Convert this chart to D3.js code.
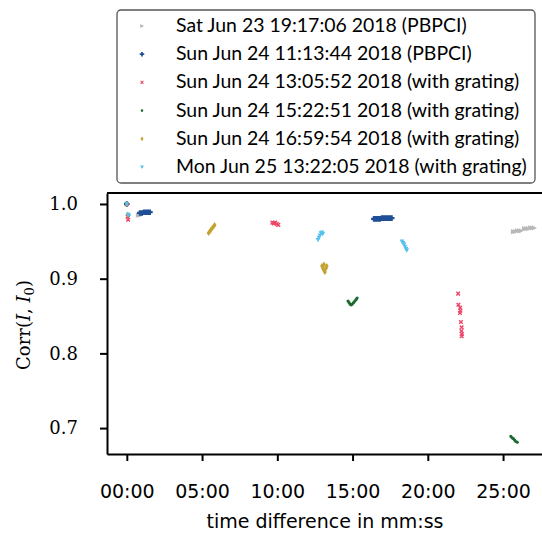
<!DOCTYPE html>
<html>
<head>
<meta charset="utf-8">
<script src="https://cdn.jsdelivr.net/npm/d3@7"></script>
<style>
  body { margin: 0; background: #fff; }
  svg text { fill: #000; }
  .sans { font-family: "DejaVu Sans", sans-serif; }
  .legend-text { font-family: Lato, "DejaVu Sans", sans-serif; }
  .serif { font-family: "DejaVu Serif", serif; }
</style>
</head>
<body>
<div id="chart"></div>
<script>
/* Corr(I, I0) against time difference, six runs */

const xTicks = [0, 300, 600, 900, 1200, 1500];
const yTicks = [0.7, 0.8, 0.9, 1.0];

const labels = [
  "Sat Jun 23 19:17:06 2018 (PBPCI)",
  "Sun Jun 24 11:13:44 2018 (PBPCI)",
  "Sun Jun 24 13:05:52 2018 (with grating)",
  "Sun Jun 24 15:22:51 2018 (with grating)",
  "Sun Jun 24 16:59:54 2018 (with grating)",
  "Mon Jun 25 13:22:05 2018 (with grating)"
];

// time in seconds, correlation value
const satT = [0, 45, 52, 60, 1540, 1548, 1556, 1564, 1572, 1584, 1592, 1600, 1608, 1616, 1624];
const satV = [1.0, 0.985, 0.985, 0.986, 0.963, 0.963, 0.964, 0.964, 0.964, 0.967, 0.967, 0.967, 0.968, 0.968, 0.968];

const sun1T = [0, 52, 60, 68, 76, 84, 92, 985, 993, 1001, 1009, 1017, 1025, 1033, 1041, 1049, 1056];
const sun1V = [1.0, 0.988, 0.988, 0.989, 0.989, 0.989, 0.989, 0.980, 0.980, 0.980, 0.980, 0.981, 0.981, 0.981, 0.981, 0.981, 0.981];

const sun2T = [0, 3, 5, 580, 586, 592, 598, 604, 1321, 1322, 1329, 1330, 1328, 1332, 1335, 1334, 1336, 1335];
const sun2V = [1.0, 0.983, 0.979, 0.975, 0.974, 0.975, 0.973, 0.972, 0.880, 0.865, 0.861, 0.857, 0.854, 0.842, 0.835, 0.830, 0.826, 0.823];

const sun3T = [0, 8, 882, 886, 890, 894, 899, 904, 909, 914, 918, 1531, 1536, 1541, 1546, 1551, 1557];
const sun3V = [1.0, 0.985, 0.870, 0.868, 0.866, 0.865, 0.866, 0.868, 0.870, 0.872, 0.874, 0.689, 0.687, 0.686, 0.684, 0.682, 0.681];

const sun4T = [0, 4, 326, 331, 336, 341, 346, 350, 778, 782, 786, 790, 794, 797, 786];
const sun4V = [1.0, 0.986, 0.961, 0.963, 0.966, 0.968, 0.970, 0.972, 0.917, 0.914, 0.911, 0.909, 0.914, 0.917, 0.919];

const monT = [0, 4, 8, 762, 766, 770, 774, 778, 781, 1097, 1101, 1105, 1109, 1113, 1116];
const monV = [1.0, 0.986, 0.985, 0.952, 0.955, 0.958, 0.961, 0.962, 0.960, 0.950, 0.948, 0.946, 0.943, 0.940, 0.938];

const colors = ["#b8b8b8", "#1f4f96", "#ee4466", "#1b6a30", "#c4a332", "#55c2ee"];
const shapes = ["triR", "plus", "cross", "dot", "diamond", "triD"];

const width = 542, height = 534;
const margin = { top: 193, right: -18, bottom: 80, left: 107 };

const series = [
  [satT, satV], [sun1T, sun1V], [sun2T, sun2V],
  [sun3T, sun3V], [sun4T, sun4V], [monT, monV]
].map((p, i) => ({
  label: labels[i], color: colors[i], shape: shapes[i],
  points: p[0].map((t, j) => ({ t: t, v: p[1][j] }))
}));

const svg = d3.select("#chart").append("svg")
  .attr("width", width).attr("height", height);

const x = d3.scaleLinear()
  .domain([-79, 1727])
  .range([margin.left, width - margin.right]);

const y = d3.scaleLinear()
  .domain([0.6653, 1.0147])
  .range([height - margin.bottom, margin.top]);

function symbolPath(shape) {
  // small marker paths centred at 0,0
  switch (shape) {
    case "triR": return "M-2.2,-2.6L2.8,0L-2.2,2.6Z";
    case "plus": return "M-1.1,-2.8H1.1V-1.1H2.8V1.1H1.1V2.8H-1.1V1.1H-2.8V-1.1H-1.1Z";
    case "cross": return d3.symbol().type(d3.symbolX).size(10)();
    case "dot": return d3.symbol().type(d3.symbolCircle).size(8)();
    case "diamond": return "M0,-3L1.9,0L0,3L-1.9,0Z";
    case "triD": return "M-2.4,-1.8L2.4,-1.8L0,2.4Z";
  }
}

svg.append("clipPath").attr("id", "clip")
  .append("rect")
  .attr("x", margin.left).attr("y", margin.top)
  .attr("width", width - margin.right - margin.left)
  .attr("height", height - margin.bottom - margin.top);

const marks = svg.append("g").attr("clip-path", "url(#clip)");
series.forEach(s => {
  marks.append("g").selectAll("path")
    .data(s.points)
    .join("path")
    .attr("d", symbolPath(s.shape))
    .attr("fill", s.color)
    .attr("stroke", s.shape === "cross" ? s.color : "none")
    .attr("stroke-width", 1.4)
    .attr("transform", d => `translate(${x(d.t)},${y(d.v)})`);
});

// axes
const fmt = t => d3.format("02d")(Math.floor(t / 60)) + ":" + d3.format("02d")(t % 60);

const xAxis = svg.append("g")
  .attr("transform", `translate(0,${height - margin.bottom})`)
  .call(d3.axisBottom(x).tickValues(xTicks).tickFormat(fmt).tickSize(7).tickSizeOuter(0).tickPadding(24));
xAxis.select(".domain").attr("stroke-width", 2);
xAxis.selectAll(".tick line").attr("stroke-width", 2);
xAxis.selectAll("text").attr("class", "sans").style("font-size", "19px");

const yAxis = svg.append("g")
  .attr("transform", `translate(${margin.left},0)`)
  .call(d3.axisLeft(y).tickValues(yTicks).tickFormat(d3.format(".1f")).tickSize(7).tickSizeOuter(0).tickPadding(22));
yAxis.select(".domain").attr("stroke-width", 2);
yAxis.selectAll(".tick line").attr("stroke-width", 2);
yAxis.selectAll("text").attr("class", "serif").style("font-size", "18px");

// top spine
svg.append("line")
  .attr("x1", margin.left).attr("x2", width)
  .attr("y1", margin.top).attr("y2", margin.top)
  .attr("stroke", "#000").attr("stroke-width", 2);

// labels
svg.append("text")
  .attr("class", "sans")
  .attr("x", 325).attr("y", 528)
  .attr("text-anchor", "middle")
  .style("font-size", "19px")
  .text("time difference in mm:ss");

const yl = svg.append("text")
  .attr("class", "serif")
  .attr("transform", "translate(30,325) rotate(-90)")
  .attr("text-anchor", "middle")
  .style("font-size", "18px");
yl.append("tspan").text("Corr(");
yl.append("tspan").style("font-style", "italic").text("I");
yl.append("tspan").text(", ");
yl.append("tspan").style("font-style", "italic").text("I");
yl.append("tspan").style("font-size", "13px").attr("dy", 4).text("0");
yl.append("tspan").attr("dy", -4).text(")");

// legend
const legend = svg.append("g");
legend.append("rect")
  .attr("x", 117).attr("y", 10)
  .attr("width", 418).attr("height", 173)
  .attr("rx", 4)
  .attr("fill", "#fff")
  .attr("stroke", "#555").attr("stroke-width", 1.3);

const rows = legend.selectAll(".row")
  .data(series)
  .join("g")
  .attr("class", "row")
  .attr("transform", (d, i) => `translate(0,${32 + i * 28.2})`);

rows.append("path")
  .attr("d", d => symbolPath(d.shape))
  .attr("fill", d => d.color)
  .attr("stroke", d => d.shape === "cross" ? d.color : "none")
  .attr("stroke-width", 1.3)
  .attr("transform", "translate(142,-6) scale(0.8)");

const legendText = rows.append("text")
  .attr("class", "legend-text")
  .attr("x", 176)
  .style("font-size", "19px")
  .text(d => d.label);

// fit the longest entry to the width seen in the figure
const longest = d3.max(legendText.nodes(), n => n.getComputedTextLength());
legendText.style("font-size", (19 * 351 / longest) + "px");
</script>
</body>
</html>
